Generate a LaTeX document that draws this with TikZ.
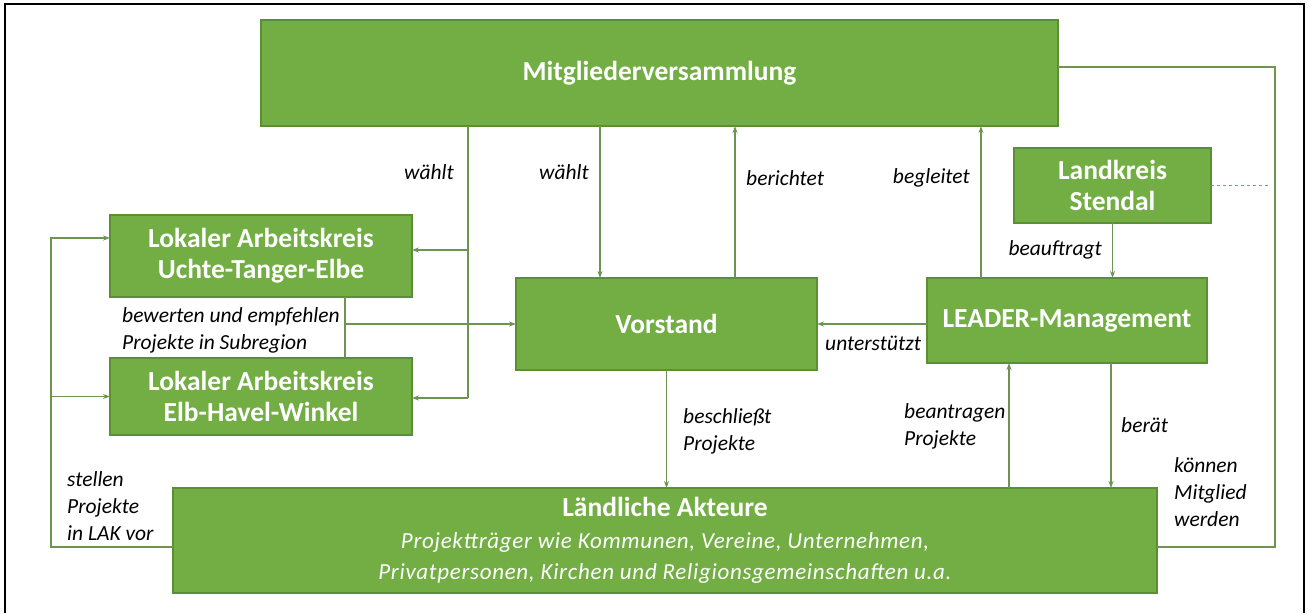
\documentclass[tikz,border=0pt]{standalone}
\usepackage{fontspec}
\setmainfont{Carlito}
\usetikzlibrary{arrows.meta}

\definecolor{boxgreen}{HTML}{72AE44}
\definecolor{boxedge}{HTML}{5A8F34}
\definecolor{linegreen}{HTML}{6E9452}
\definecolor{dashblue}{HTML}{5B9BD5}

\newcommand{\subline}[1]{{\mdseries\itshape\fontsize{23}{28}\selectfont\addfontfeatures{LetterSpace=3}#1}}

\begin{document}
\begin{tikzpicture}[
            x=1pt, y=-1pt,
            box/.style={draw=boxedge,line width=1.2pt,fill=boxgreen,rectangle,anchor=north west,inner sep=0pt,outer sep=0pt,align=center,text=white,font=\bfseries\fontsize{27.5}{31}\selectfont},
            lab/.style={inner sep=0pt,align=left,font=\itshape\fontsize{21.5}{27}\selectfont},
            con/.style={draw=linegreen,line width=1.1pt},
            arr/.style={con,-{Stealth[length=7pt,width=5pt]}},
        ]

        \useasboundingbox (0,0) rectangle (1313,613);
        \draw[line width=1.5pt] (5,613) -- (5,4) -- (1304,4) -- (1304,613);

        % boxes
        \node[box,minimum width=797pt,minimum height=106pt] (mv) at (261,20) {Mitgliederversammlung};
        \node[box,minimum width=197pt,minimum height=75pt] (lk) at (1014,148) {Landkreis\\Stendal};
        \node[box,minimum width=302pt,minimum height=82pt] (lakut) at (110,215) {Lokaler Arbeitskreis\\Uchte-Tanger-Elbe};
        \node[box,minimum width=302pt,minimum height=77pt] (lakeh) at (110,358) {Lokaler Arbeitskreis\\Elb-Havel-Winkel};
        \node[box,minimum width=301pt,minimum height=92pt] (vs) at (516,278) {Vorstand};
        \node[box,minimum width=280pt,minimum height=85pt] (lm) at (927,278) {LEADER-Management};
        \node[box,minimum width=984pt,minimum height=105pt] (la) at (173,488)
            {Ländliche Akteure\\[1pt]
             \subline{Projektträger wie Kommunen, Vereine, Unternehmen,}\\
             \subline{Privatpersonen, Kirchen und Religionsgemeinschaften u.a.}};

        % x positions of the vertical lines
        \coordinate (xwl) at (468,0);
        \coordinate (xwv) at (600,0);
        \coordinate (xbr) at (735,0);
        \coordinate (xbg) at (981,0);
        \coordinate (xba) at (1009,0);
        \coordinate (xbt) at (1111,0);
        \coordinate (xlak) at (345,0);
        \coordinate (xl) at (51,0);
        \coordinate (wl) at (468,250);
        \coordinate (wl2) at (468,398);
        \coordinate (ul) at ([yshift=18pt]lakut.west);

        % connectors
        \draw[con] (mv.south -| xwl) -- (wl2);
        \draw[arr] (wl) -- (wl -| lakut.east);
        \draw[arr] (wl2) -- (wl2 -| lakeh.east);
        \draw[arr] (mv.south -| xwv) -- (vs.north -| xwv);
        \draw[arr] (vs.north -| xbr) -- (mv.south -| xbr);
        \draw[arr] (lm.north -| xbg) -- (mv.south -| xbg);
        \draw[arr] (lk.south) -- (lk.south |- lm.north);
        \draw[arr] (lm.west |- vs.east) -- (vs.east);
        \draw[con] (lakut.south -| xlak) -- (lakeh.north -| xlak);
        \draw[arr] (vs.west -| xlak) -- (vs.west);
        \draw[arr] (vs.south) -- (vs.south |- la.north);
        \draw[arr] (la.north -| xba) -- (lm.south -| xba);
        \draw[arr] (lm.south -| xbt) -- (la.north -| xbt);
        \draw[con] ([yshift=6pt]mv.east) -- ++(217,0) |- ([yshift=-6.5pt]la.east);
        \draw[arr] ([yshift=-6.5pt]la.west) -| (ul -| xl) -- (ul);
        \draw[arr] (lakeh.west -| xl) -- (lakeh.west);
        \draw[dashed,draw=dashblue,line width=0.8pt] (lk.east) -- ++(58,0);

        % labels
        \node[lab,anchor=east] (l1) at (454,172) {wählt};
        \node[lab,anchor=east] (l2) at (589,172) {wählt};
        \node[lab,anchor=west] (l3) at (746,178) {berichtet};
        \node[lab,anchor=east] (l4) at (970,178) {begleitet};
        \node[lab,anchor=east] (l5) at (1102,250) {beauftragt};
        \node[lab,anchor=west] (l6) at (825,343) {unterstützt};
        \node[lab,anchor=west] (l7) at (122,330) {bewerten und empfehlen\\Projekte in Subregion};
        \node[lab,anchor=west] (l8) at (67,506) {stellen\\Projekte\\in LAK vor};
        \node[lab,anchor=west] (l9) at (683,431) {beschließt\\Projekte};
        \node[lab,anchor=west] (l10) at (904,426) {beantragen\\Projekte};
        \node[lab,anchor=west] (l11) at (1121,425) {berät};
        \node[lab,anchor=west] (l12) at (1174,492) {können\\Mitglied\\werden};

    \end{tikzpicture}
\end{document}
